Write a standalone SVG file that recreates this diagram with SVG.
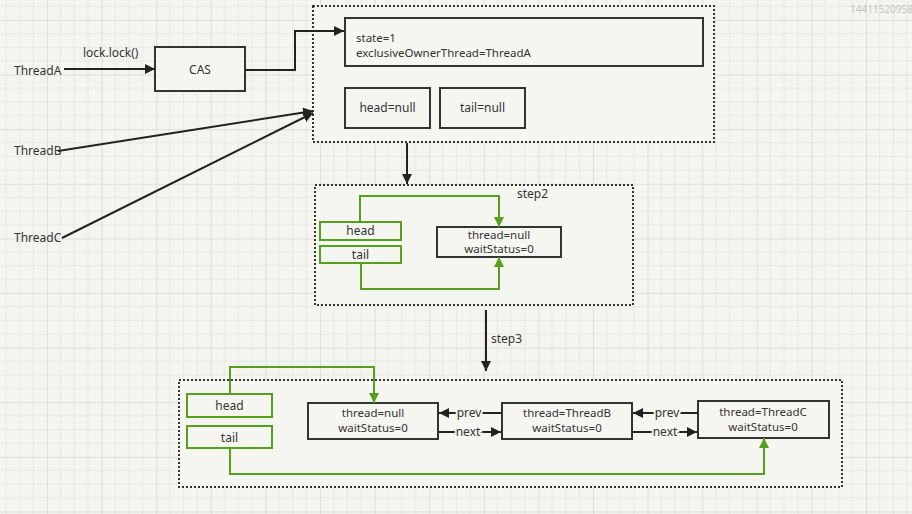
<svg xmlns="http://www.w3.org/2000/svg" width="912" height="514" viewBox="0 0 912 514">
<defs>
<pattern id="grid" patternUnits="userSpaceOnUse" x="47" y="20" width="54.6" height="54.6">
<path d="M13.65 0V54.6M27.3 0V54.6M40.95 0V54.6M0 13.65H54.6M0 27.3H54.6M0 40.95H54.6" stroke="#e9e9e3" stroke-width="1" fill="none"/>
<path d="M0.5 0V54.6M0 0.5H54.6" stroke="#dedfd8" stroke-width="1" fill="none"/>
</pattern>
<marker id="ab" viewBox="0 0 10 10" refX="10" refY="5" markerWidth="10" markerHeight="10" markerUnits="userSpaceOnUse" orient="auto">
<path d="M0 0L10 5L0 10z" fill="#222"/>
</marker>
<marker id="ag" viewBox="0 0 10 10" refX="10" refY="5" markerWidth="10" markerHeight="12" markerUnits="userSpaceOnUse" orient="auto">
<path d="M0 0L10 5L0 10z" fill="#55a01e"/>
</marker>
<style>
text{font-family:"Noto Sans","Open Sans","DejaVu Sans",sans-serif;font-size:12px;fill:#333}
.c{text-anchor:middle}
.m{font-size:11.5px}
.box{fill:#f6f6f1;stroke:#333;stroke-width:2}
.gbox{fill:#f6f6f1;stroke:#55a01e;stroke-width:2}
.cont{fill:#f6f6f1;stroke:#333;stroke-width:2;stroke-dasharray:2 2}
.ln{fill:none;stroke:#222;stroke-width:2}
.gl{fill:none;stroke:#55a01e;stroke-width:2}
.halo{paint-order:stroke;stroke:#f6f6f1;stroke-width:4px}
</style>
</defs>
<rect width="912" height="514" fill="#f5f5f0"/>
<rect width="912" height="514" fill="url(#grid)"/>
<text x="850" y="13" style="font-size:10px;fill:#c4c4c4">14411520958</text>

<g id="container1"><rect class="cont" x="313" y="6" width="401" height="136"/></g>
<g id="container2"><rect class="cont" x="315" y="185" width="318" height="120"/><text x="517" y="198">step2</text></g>
<g id="container3"><rect class="cont" x="179" y="380" width="663" height="107"/></g>

<g id="threadA"><text x="14" y="75">ThreadA</text></g>
<g id="threadB"><text x="14" y="155">ThreadB</text></g>
<g id="threadC"><text x="14" y="242">ThreadC</text></g>
<g id="cas"><rect class="box" x="155" y="47" width="90" height="44"/><text class="c" x="200" y="74">CAS</text></g>
<g id="state"><rect class="box" x="345" y="18" width="358" height="48"/><text class="m" x="356" y="42">state=1</text><text class="m" x="356" y="57">exclusiveOwnerThread=ThreadA</text></g>
<g id="headNull"><rect class="box" x="345" y="88" width="85" height="40"/><text class="c" x="387.5" y="112">head=null</text></g>
<g id="tailNull"><rect class="box" x="440" y="88" width="85" height="40"/><text class="c" x="482.5" y="112">tail=null</text></g>

<g id="head2"><rect class="gbox" x="320" y="222" width="81" height="18"/><text class="c" x="360.5" y="235">head</text></g>
<g id="tail2"><rect class="gbox" x="320" y="246" width="81" height="17"/><text class="c" x="360.5" y="259">tail</text></g>
<g id="node2null"><rect class="box" x="437" y="227" width="124" height="30"/><text class="c m" x="499" y="239">thread=null</text><text class="c m" x="499" y="253">waitStatus=0</text></g>

<g id="head3"><rect class="gbox" x="187" y="394" width="85" height="23"/><text class="c" x="229.5" y="410">head</text></g>
<g id="tail3"><rect class="gbox" x="187" y="426" width="85" height="22"/><text class="c" x="229.5" y="442">tail</text></g>
<g id="n1"><rect class="box" x="308" y="403" width="130" height="36"/><text class="c m" x="373" y="417">thread=null</text><text class="c m" x="373" y="432">waitStatus=0</text></g>
<g id="n2"><rect class="box" x="502" y="403" width="130" height="36"/><text class="c m" x="567" y="417">thread=ThreadB</text><text class="c m" x="567" y="432">waitStatus=0</text></g>
<g id="n3"><rect class="box" x="698" y="401" width="131" height="37"/><text class="c m" x="763" y="416">thread=ThreadC</text><text class="c m" x="763" y="431">waitStatus=0</text></g>

<g id="connectors">
<path class="ln" d="M64 69H155" marker-end="url(#ab)"/>
<text x="83" y="57">lock.lock()</text>
<path class="ln" d="M245 70H295V31H344" marker-end="url(#ab)"/>
<path class="ln" d="M58 151L313 111" marker-end="url(#ab)"/>
<path class="ln" d="M62 238L313 113" marker-end="url(#ab)"/>
<path class="ln" d="M407 143V184" marker-end="url(#ab)"/>
<path class="ln" d="M486 310V371" marker-end="url(#ab)"/>
<text x="491" y="343">step3</text>
<path class="gl" d="M360 222V196H499V227" marker-end="url(#ag)"/>
<path class="gl" d="M361 263V289H499V257" marker-end="url(#ag)"/>
<path class="gl" d="M230 394V367H374V403" marker-end="url(#ag)"/>
<path class="gl" d="M230 448V474H764V438" marker-end="url(#ag)"/>
<path class="ln" d="M502 413H439" marker-end="url(#ab)"/>
<text class="c halo" x="469" y="417">prev</text>
<path class="ln" d="M439 432H501" marker-end="url(#ab)"/>
<text class="c halo" x="468" y="436">next</text>
<path class="ln" d="M698 413H633" marker-end="url(#ab)"/>
<text class="c halo" x="667" y="417">prev</text>
<path class="ln" d="M633 432H697" marker-end="url(#ab)"/>
<text class="c halo" x="665" y="436">next</text>
</g>
</svg>
